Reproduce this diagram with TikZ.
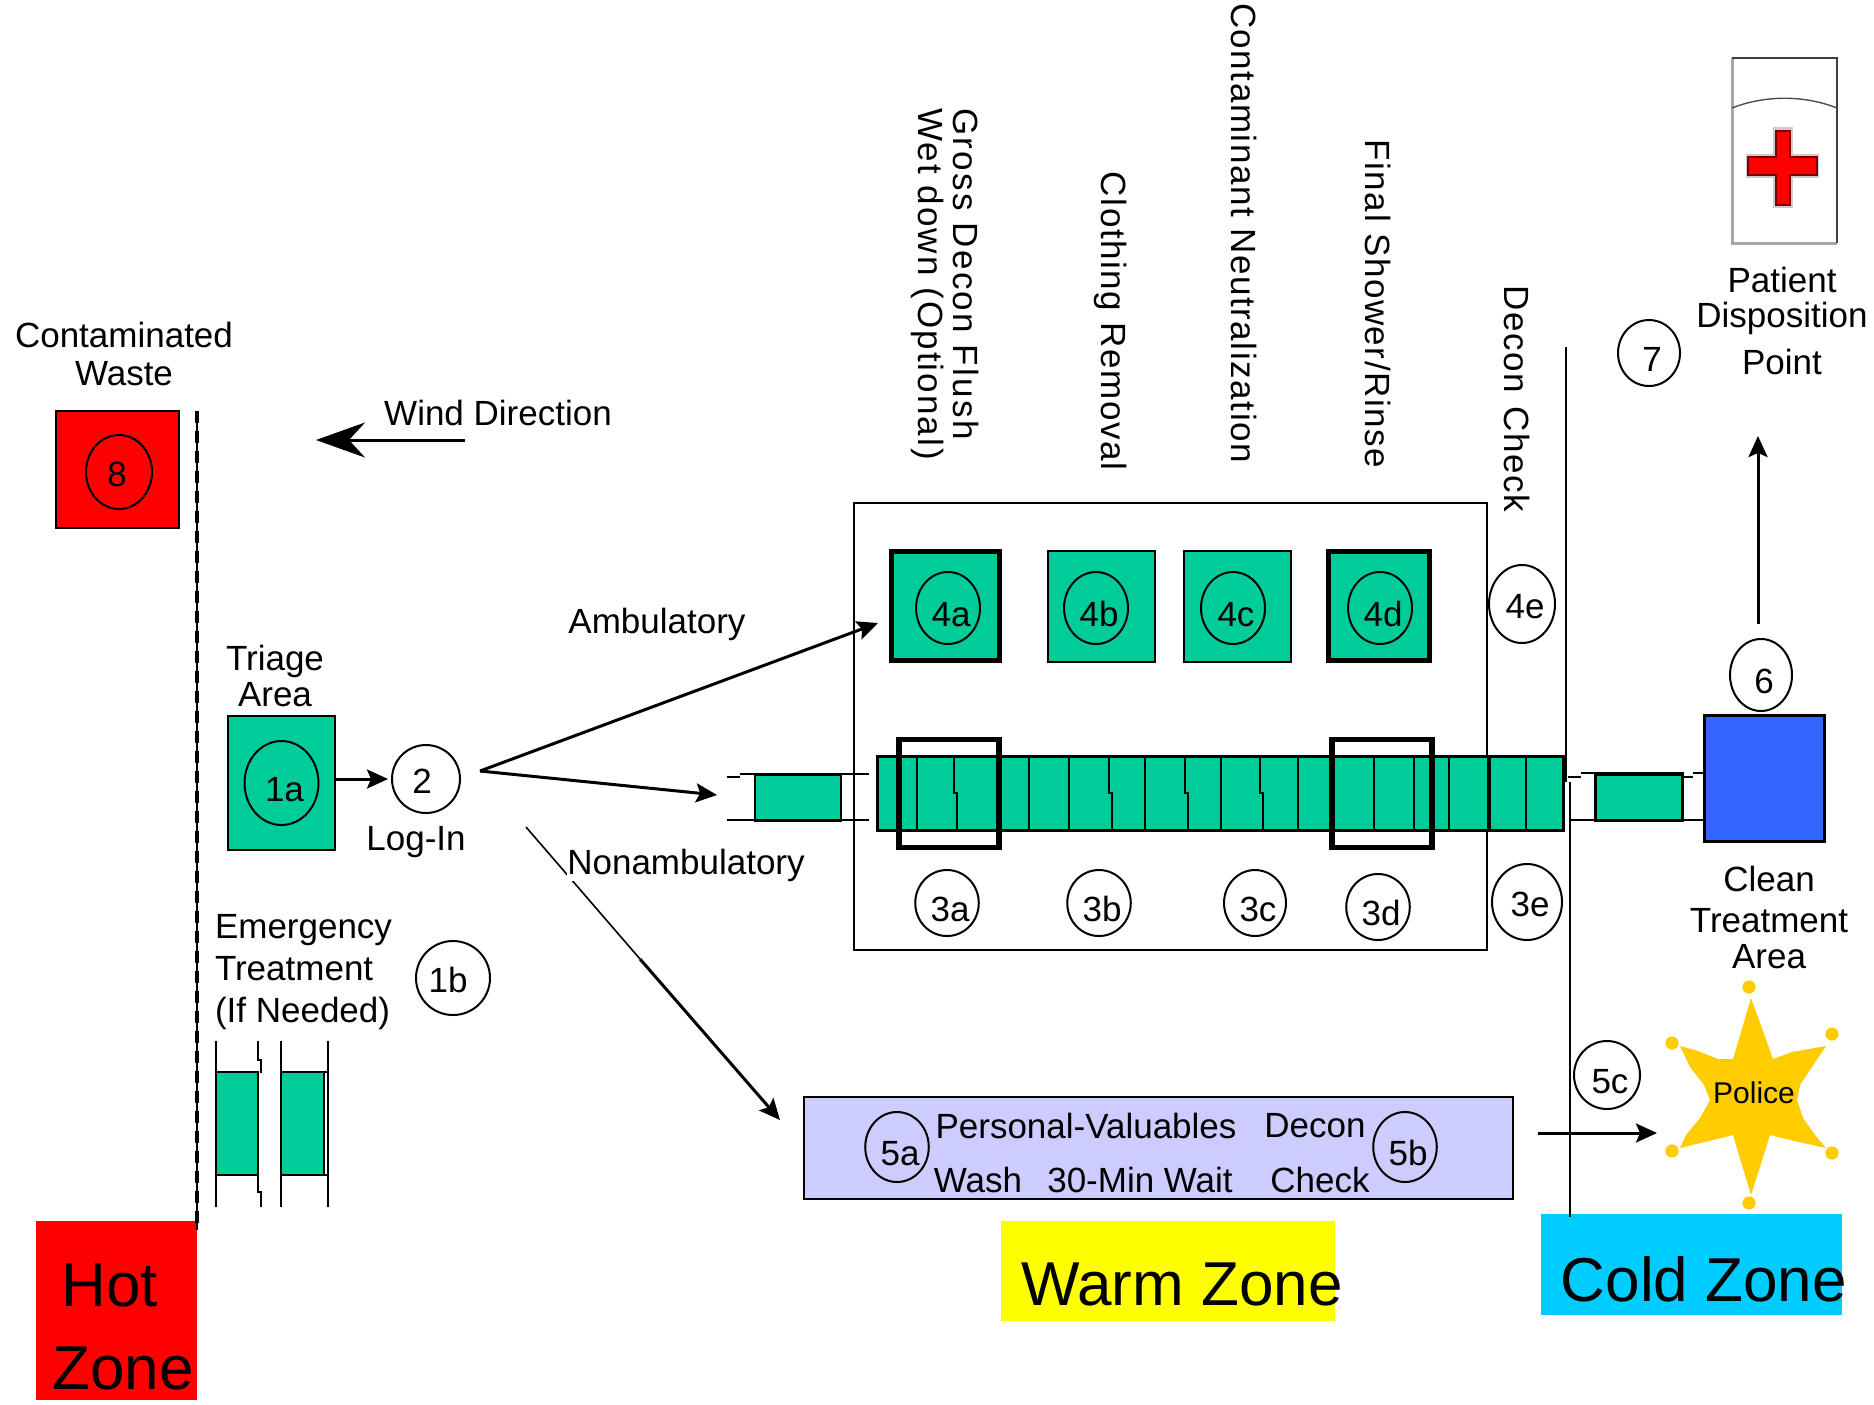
\documentclass[tikz,border=0pt]{standalone}
\usepackage{xcolor}
\usepackage{fontspec}
\setmainfont{Liberation Sans}
\usepackage{tikz}
\usetikzlibrary{shapes.geometric, arrows.meta, positioning}

\definecolor{decongreen}{HTML}{00CC99}
\definecolor{cleanblue}{HTML}{3366FF}
\definecolor{valuables}{HTML}{CCCCFF}
\definecolor{coldblue}{HTML}{00CCFF}
\definecolor{warmyellow}{HTML}{FFFF00}
\definecolor{badgegold}{HTML}{FFCC00}

\begin{document}
\begin{tikzpicture}[
    x=0.5pt, y=-0.5pt,
    every node/.style={font=\fontsize{17.5}{19}\selectfont, inner sep=0pt, outer sep=0pt},
    stepcirc/.style={ellipse, draw, line width=1pt, minimum width=31pt, minimum height=33pt, text height=18pt, text depth=0pt, execute at begin node={\hspace*{3pt}}},
    midtext/.style={text height=14pt},
    bigcirc/.style={stepcirc, minimum width=33pt, minimum height=38pt},
    greenbox/.style={rectangle, draw, line width=1.1pt, fill=decongreen, minimum width=54pt, minimum height=56pt},
    heavybox/.style={greenbox, line width=2.5pt},
    lbl/.style={align=center},
    vlbl/.style={rotate=-90, font=\fontsize{17.5}{19}\selectfont\addfontfeature{LetterSpace=4.5}},
    zonelbl/.style={font=\fontsize{31}{33}\selectfont},
    arrow/.style={-{Stealth[length=10.5pt, width=9.5pt, inset=2pt]}, line width=1.5pt},
    wall/.style={line width=1.4pt},
    thinline/.style={line width=1.3pt},
    wash/.style={rectangle, draw, line width=1.3pt, fill=decongreen}
]
\useasboundingbox (0,0) rectangle (1874,1404);

% zones
\node[rectangle, fill=red, minimum width=80.5pt, minimum height=89.5pt] (hotzone) at (116.5,1310.5) {};
\node[rectangle, fill=warmyellow, minimum width=167pt, minimum height=50pt] (warmzone) at (1168,1271) {};
\node[rectangle, fill=coldblue, minimum width=150.5pt, minimum height=50.5pt] (coldzone) at (1691.5,1264.5) {};
\node[zonelbl] (hotlbl) at (110,1285) {Hot};
\node[zonelbl] (zonelbl) at (123,1368) {Zone};
\node[zonelbl] (warmlbl) at (1182,1284) {Warm Zone};
\node[zonelbl] (coldlbl) at (1704,1279) {Cold Zone};

% hot line, waste and wind
\coordinate (hottop) at (197,411);
\coordinate (hotend) at (197,1230);
\draw[line width=1pt] (hottop) -- (hotend);
\draw[line width=2.4pt, dash pattern=on 6pt off 4pt] (hottop) -- (hotend);
\node[lbl] (wastelbl) at (124,354) {Contaminated\\[0.2pt]Waste};
\node[rectangle, draw, line width=1.1pt, fill=red, minimum width=61.5pt, minimum height=58.5pt] (waste) at (117.5,469.5) {};
\node[stepcirc, midtext, minimum width=33pt, minimum height=37pt] (circ8) at (119,472) {\hspace*{-5pt}8};
\node (windlbl) at (498,413) {Wind Direction};
\coordinate (windtail) at (465,440);
\coordinate (windhead) at (316,440);
\draw[-{Stealth[length=24.5pt, width=17.5pt, inset=8pt]}, line width=1.5pt] (windtail) -- (windhead);

% triage
\node[lbl] (triagelbl) at (275,676) {Triage\\[-1pt]Area};
\node[greenbox, minimum width=53.5pt, minimum height=67pt] (box1a) at (281.5,783) {};
\node[stepcirc, minimum width=37pt, minimum height=42pt] (circ1a) at (box1a) {1a};
\node[stepcirc, midtext, minimum width=34pt, minimum height=34pt] (circ2) at (426,779) {\hspace*{-7pt}2};
\node (loginlbl) at (416,842) {Log-In};
\draw[arrow, shorten >=2pt] (box1a.east |- circ2) -- (circ2);
\node[lbl, align=left, anchor=west] (emerlbl) at (215,972) {Emergency\\[2pt]Treatment\\[2pt](If Needed)};
\node[stepcirc, midtext, minimum width=37pt, minimum height=37pt] (circ1b) at (453,978) {\hspace*{-8pt}1b};

% emergency wash lanes
\draw[thinline] (216,1041) -- (216,1207) (281,1041) -- (281,1207) (328,1041) -- (328,1207);
\draw[thinline] (258,1041) -- (258,1060) -- (261,1060) -- (261,1073) (258,1175) -- (258,1192) -- (261,1192) -- (261,1207);
\foreach \x/\w in {216/258, 281/324}{
  \draw[wash] (\x,1072) rectangle (\w,1175);
}
\draw[thinline] (324,1072) -- (328,1072) (324,1175) -- (328,1175);

% patient flow
\coordinate (fan) at (480,771);
\coordinate (ambend) at (878,623);
\coordinate (nonend) at (717,795);
\coordinate (walkstart) at (526,827);
\coordinate (walkmid) at (640,959);
\coordinate (walkend) at (780,1120);
\draw[arrow] (fan) -- (ambend);
\draw[arrow] (fan) -- (nonend);
\draw[line width=0.8pt] (walkstart) -- (walkmid);
\draw[arrow] (walkmid) -- (walkend);
\node (amblbl) at (657,624) {Ambulatory};
\node[fill=white] (nonlbl) at (686,865) {Nonambulatory};

% decon corridor
\node[rectangle, draw, line width=1.1pt, minimum width=316.5pt, minimum height=223.5pt] (corridor) at (1170.5,726.5) {};
\node[heavybox, minimum height=54.5pt] (box4a) at (945,605.5) {};
\node[greenbox, minimum width=53.5pt, minimum height=55.5pt, right=24.5pt of box4a, yshift=-0.5pt] (box4b) {};
\node[greenbox, minimum width=53.5pt, minimum height=55.5pt, right=14.5pt of box4b] (box4c) {};
\node[heavybox, minimum width=50.5pt, minimum height=54.5pt] (box4d) at (1379,605.5) {};
\foreach \name/\x in {4a/948, 4b/1096, 4c/1233, 4d/1380}{
  \node[stepcirc, minimum width=32pt, minimum height=36pt] (circ\name) at (\x,608) {\name};
}
\node[stepcirc, midtext, minimum width=33pt, minimum height=39pt] (circ4e) at (1522,604) {4e};

% shower line
\draw[thinline] (727,777) -- (740,777) (740,774) -- (869,774) (727,820) -- (869,820);
\node[wash, minimum width=43pt, minimum height=23pt] (wash1) at (798,797.5) {};
\node[wash, minimum width=343pt, minimum height=37pt, line width=1.5pt] (wash3) at (1220.5,793.5) {};
\foreach \x in {917,1029,1069,1145,1221,1298,1374,1414,1449,1526}{
  \draw[line width=1.2pt] (\x,755) -- (\x,832);
}
\draw[line width=1.8pt] (1489,755) -- (1489,832);
\foreach \x in {954,1109,1185,1260}{
  \draw[line width=1.2pt] (\x,755) -- (\x,793) -- (\x+3,793) -- (\x+3,832);
}
\node[rectangle, draw, line width=2.8pt, minimum width=50pt, minimum height=54pt] (box3a) at (949,793.5) {};
\node[rectangle, draw, line width=2.8pt, minimum width=50pt, minimum height=54pt] (box3d) at (1382,793.5) {};
\foreach \name/\x/\y in {3a/947/903, 3b/1099/903, 3c/1255/903, 3d/1378/907}{
  \node[stepcirc] (circ\name) at (\x,\y) {\name};
}
\node[bigcirc, midtext, minimum width=35pt] (circ3e) at (1527,902) {3e};

% wall between warm and cold
\coordinate (walltop) at (1566,347);
\coordinate (walljog) at (1566,782);
\coordinate (wallmid) at (1570,782);
\coordinate (wallend) at (1570,1217);
\draw[wall] (walltop) -- (walljog);
\draw[wall] (wallmid) -- (wallend);

% to clean treatment
\draw[thinline] (1568,777) -- (1581,777) (1581,773) -- (1684,773) (1684,777) -- (1693,777) (1693,773) -- (1710,773) (1570,820) -- (1710,820);
\node[wash, minimum width=43.5pt, minimum height=23pt] (wash2) at (1639,797.5) {};
\node[rectangle, draw, line width=1.6pt, fill=cleanblue, minimum width=60pt, minimum height=63pt] (cleanbox) at (1764.5,778.5) {};
\node[lbl] (cleanlbl) at (1769,917) {Clean\\[1.5pt]Treatment\\[-1pt]Area};
\node[stepcirc, minimum width=31pt, minimum height=36pt] (circ6) at (1761,675) {6};
\coordinate (uptail) at (1758,624);
\coordinate (upend) at (1758,436);
\draw[arrow] (uptail) -- (upend);

% disposition point
\draw[line width=1.5pt, draw=black!35] (1732,58) -- (1732,243) -- (1837,243);
\draw[line width=1pt, draw=black!75] (1732,58) -- (1837,58) -- (1837,243);
\draw[line width=0.7pt, draw=black!70] (1732,108) .. controls (1765,95) and (1804,95) .. (1837,108);
\draw[line width=1.6pt, draw=black!20, fill=red] (1775,129) -- (1791,129) -- (1791,156) -- (1817,156) -- (1817,176) -- (1791,176) -- (1791,206) -- (1775,206) -- (1775,176) -- (1748,176) -- (1748,156) -- (1775,156) -- cycle;
\draw[line width=1pt, draw=red!50!black, fill=red] (1776,131) -- (1790,131) -- (1790,157) -- (1817,157) -- (1817,175) -- (1790,175) -- (1790,205) -- (1776,205) -- (1776,175) -- (1748,175) -- (1748,157) -- (1776,157) -- cycle;
\node[lbl] (displbl) at (1782,321) {Patient\\[-1.5pt]Disposition\\[4.5pt]Point};
\node[stepcirc] (circ7) at (1649,353) {7};

% valuables
\node[rectangle, draw, line width=1.1pt, fill=valuables, minimum width=354.5pt, minimum height=51pt] (valbox) at (1158.5,1148) {};
\node[stepcirc, minimum height=35pt] (circ5a) at (897,1147) {5a};
\node[stepcirc, minimum height=35pt] (circ5b) at (1405,1147) {5b};
\node (val1) at (1086,1126) {Personal-Valuables};
\node (val2) at (1315,1126) {Decon};
\node (val3) at (978,1180) {Wash};
\node (val4) at (1140,1180) {30-Min Wait};
\node (val5) at (1320,1180) {Check};
\node[stepcirc, minimum width=33pt, minimum height=34pt] (circ5c) at (1607,1075) {5c};

% police
\coordinate (policetail) at (1538,1133);
\coordinate (policehead) at (1657,1133);
\draw[arrow] (policetail) -- (policehead);
\fill[badgegold] (1751,998) -- (1773,1059) -- (1792,1052) -- (1826,1046) -- (1812,1067) -- (1800,1085) -- (1797,1100) -- (1803,1118) -- (1815,1135) -- (1826,1148) -- (1790,1140) -- (1770,1135) -- (1751,1195) -- (1733,1135) -- (1713,1140) -- (1680,1148) -- (1686,1135) -- (1700,1118) -- (1710,1100) -- (1704,1085) -- (1690,1067) -- (1680,1046) -- (1698,1051) -- (1718,1059) -- (1733,1059) -- cycle;
\foreach \x/\y in {1749/987, 1749/1203, 1672/1043, 1832/1034, 1672/1151, 1832/1153}{
  \fill[badgegold] (\x,\y) circle (3.3pt);
}
\node[font=\fontsize{15}{16}\selectfont] (policelbl) at (1754,1093) {Police};

% labels over the corridor
\node[vlbl, font=\fontsize{17.5}{19}\selectfont\addfontfeature{LetterSpace=6.5}] (l4a1) at (966,274) {Gross Decon Flush};
\node[vlbl, font=\fontsize{17.5}{19}\selectfont\addfontfeature{LetterSpace=6}] (l4a2) at (928,284) {Wet down (Optional)};
\node[vlbl] (l4b) at (1111,321) {Clothing Removal};
\node[vlbl] (l4c) at (1244,233) {Contaminant Neutralization};
\node[vlbl] (l4d) at (1378,304) {Final Shower/Rinse};
\node[vlbl] (l4e) at (1517,399) {Decon\hspace{0.4em}Check};
\end{tikzpicture}
\end{document}
